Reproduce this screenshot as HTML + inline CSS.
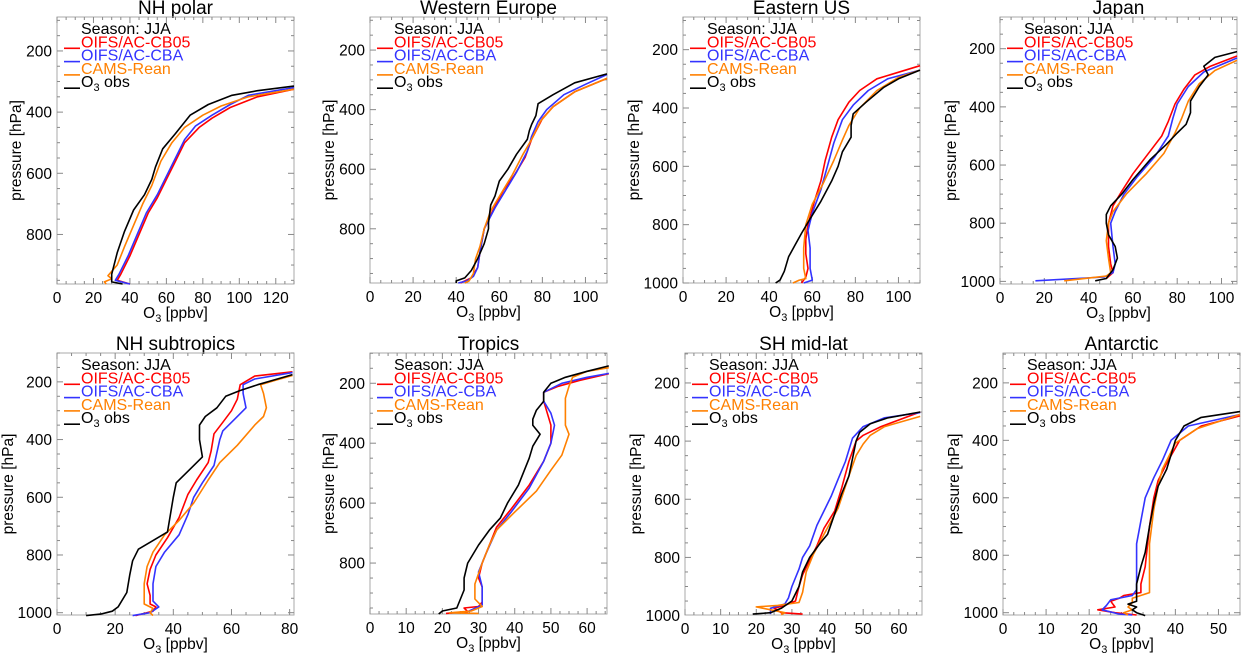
<!DOCTYPE html>
<html><head><meta charset="utf-8">
<style>
html,body{margin:0;padding:0;background:#fff;}
svg{display:block;font-family:"Liberation Sans",Arial,sans-serif;}
</style></head>
<body>
<svg id="chart" width="1241" height="653" viewBox="0 0 1241 653" xmlns="http://www.w3.org/2000/svg"></svg>
<script>
// ---------- data (O3 ppbv, pressure hPa) ----------
const titles = ["NH polar","Western Europe","Eastern US","Japan","NH subtropics","Tropics","SH mid-lat","Antarctic"];
const seriesNames = ["OIFS/AC-CB05","OIFS/AC-CBA","CAMS-Rean","O3 obs"];
const seriesColors = ["#ff0000","#3333ff","#ff8000","#000000"];

const nhpolar_cb05 = [[40,962],[33,950],[35,930],[40,870],[45,800],[50,730],[55,680],[60,620],[65,560],[70,500],[78,450],[85,420],[95,385],[110,350],[130,325]];
const nhpolar_cba  = [[40,962],[32,950],[34,930],[39,870],[44,800],[49,730],[55,670],[60,610],[65,550],[70,490],[76,445],[85,410],[95,375],[105,345],[130,320]];
const nhpolar_cams = [[27,962],[26,955],[30,945],[28,935],[33,900],[37,840],[42,770],[47,700],[52,640],[57,560],[63,500],[70,450],[80,410],[90,380],[105,350],[130,325]];
const nhpolar_obs  = [[36,962],[30,955],[30,930],[33,860],[37,790],[42,720],[48,670],[52,620],[54,580],[58,520],[65,470],[73,410],[83,375],[96,345],[110,330],[130,315]];

const weu_cb05 = [[42,982],[47,965],[50,930],[51,880],[53,800],[57,740],[62,670],[67,620],[72,560],[75,500],[80,430],[85,390],[95,340],[110,295]];
const weu_cba  = [[41,982],[45,975],[48,960],[50,930],[51,880],[53,800],[58,730],[63,670],[68,610],[73,540],[75,490],[78,440],[82,400],[90,350],[100,315],[110,282]];
const weu_cams = [[44,982],[46,975],[48,950],[49,900],[51,860],[53,800],[56,740],[61,680],[66,620],[71,550],[75,500],[79,440],[85,390],[95,340],[110,295]];
const weu_obs  = [[40,982],[40,975],[44,965],[47,940],[50,900],[53,850],[55,800],[55,780],[56,720],[58,690],[60,640],[64,600],[68,550],[73,500],[74,470],[75,450],[77,420],[78,380],[85,350],[95,310],[110,280]];

const eus_cb05 = [[55,1000],[57,980],[58,950],[57,900],[57,850],[58,800],[61,720],[64,650],[66,580],[69,500],[72,440],[77,380],[82,340],[90,300],[110,255]];
const eus_cba  = [[56,1000],[60,990],[59,950],[59,880],[58,820],[60,760],[64,680],[67,600],[70,520],[74,440],[79,390],[86,340],[95,300],[110,270]];
const eus_cams = [[51,1000],[54,990],[57,985],[56,950],[56,880],[57,800],[60,730],[65,660],[70,580],[74,510],[77,460],[82,400],[90,340],[100,295],[110,270]];
const eus_obs  = [[43,1000],[45,990],[47,960],[49,910],[52,870],[55,830],[59,780],[64,720],[69,650],[72,600],[74,550],[78,500],[78,460],[79,420],[85,380],[93,330],[100,300],[110,270]];

const jap_cb05 = [[48,990],[51,970],[50,940],[49,880],[49,800],[51,740],[55,690],[60,630],[66,570],[73,500],[76,450],[79,390],[83,340],[88,290],[95,260],[107,225]];
const jap_cba  = [[16,998],[47,985],[51,970],[52,940],[51,880],[50,800],[52,760],[56,700],[62,640],[70,570],[76,500],[78,440],[80,390],[85,330],[92,280],[107,232]];
const jap_cams = [[29,998],[48,982],[50,970],[49,920],[48,860],[49,800],[51,760],[57,700],[66,630],[74,560],[79,490],[82,440],[85,380],[90,320],[97,275],[107,240]];
const jap_obs  = [[43,998],[48,990],[51,960],[53,920],[52,880],[49,840],[48,800],[48,770],[50,740],[55,700],[60,650],[68,580],[75,530],[80,490],[84,460],[86,420],[86,380],[90,330],[94,290],[92,260],[97,230],[107,210]];

const nhs_cb05 = [[27,1010],[33,995],[34,980],[32,970],[32,940],[31,900],[32,850],[34,800],[38,740],[42,670],[45,590],[48,540],[52,480],[53,440],[54,380],[57,340],[60,300],[62,260],[63,210],[68,180],[81,165]];
const nhs_cba  = [[26,1010],[32,1000],[35,980],[33,960],[33,900],[34,840],[37,790],[42,730],[45,660],[47,600],[50,550],[54,490],[56,400],[57,370],[61,330],[65,290],[64,240],[64,210],[68,190],[81,168]];
const nhs_cams = [[33,1010],[32,1000],[33,985],[30,970],[30,900],[31,840],[33,790],[37,730],[42,680],[47,620],[52,540],[56,480],[62,420],[68,350],[71,320],[72,290],[71,240],[70,210],[75,195],[81,178]];
const nhs_obs  = [[10,1010],[15,1005],[17,1000],[19,995],[21,980],[24,930],[25,870],[26,820],[28,780],[33,750],[38,720],[39,660],[40,600],[41,550],[46,500],[50,460],[49,400],[49,350],[51,320],[55,290],[58,250],[63,230],[69,210],[81,175]];

const trop_cb05 = [[21,968],[27,962],[26,950],[30,945],[31,930],[31,880],[30,850],[31,800],[33,740],[35,680],[39,620],[44,540],[48,460],[50,400],[50,340],[49,300],[48,260],[48,230],[52,210],[58,190],[66,168]];
const trop_cba  = [[27,962],[31,940],[31,880],[30,830],[32,770],[35,690],[39,630],[44,550],[48,460],[50,400],[51,340],[50,300],[48,260],[48,230],[53,200],[60,180],[66,167]];
const trop_cams = [[30,968],[22,966],[28,960],[31,945],[29,920],[29,870],[31,800],[33,740],[35,690],[40,630],[46,560],[50,490],[53,440],[55,370],[54,340],[54,300],[54,250],[55,210],[56,180],[60,160],[66,148]];
const trop_obs  = [[19,970],[20,960],[24,950],[26,890],[26,850],[27,800],[30,740],[33,690],[36,650],[38,600],[41,540],[44,450],[45,410],[47,370],[45,340],[45,320],[46,290],[48,260],[48,230],[50,200],[54,180],[60,160],[66,142]];

const shm_cb05 = [[33,995],[27,990],[25,975],[28,965],[31,950],[32,900],[33,860],[35,810],[37,760],[39,700],[42,640],[44,560],[46,470],[48,400],[50,380],[55,350],[66,300]];
const shm_cba  = [[24,995],[24,975],[28,960],[29,940],[30,900],[32,840],[33,800],[35,760],[37,690],[39,640],[41,590],[43,530],[45,470],[47,390],[50,350],[56,320],[66,302]];
const shm_cams = [[27,997],[28,990],[20,970],[26,965],[32,955],[33,920],[34,850],[36,790],[39,720],[43,630],[46,520],[48,450],[50,410],[52,380],[56,350],[66,315]];
const shm_obs  = [[19,995],[24,990],[27,975],[30,950],[32,900],[33,850],[35,800],[38,750],[40,720],[42,650],[44,580],[46,520],[47,460],[48,400],[49,370],[52,340],[57,320],[66,300]];

const ant_cb05 = [[31,1008],[26,1000],[22,990],[26,980],[25,960],[27,950],[28,940],[32,930],[32,900],[33,840],[34,700],[35,600],[36,540],[38,480],[41,400],[46,350],[55,315]];
const ant_cba  = [[30,1008],[27,1005],[23,990],[24,975],[25,955],[30,940],[31,920],[31,840],[31,760],[32,680],[33,600],[35,530],[37,470],[39,400],[43,350],[55,310]];
const ant_cams = [[29,1008],[28,1000],[30,990],[29,980],[30,965],[30,950],[34,930],[34,900],[34,840],[34,760],[35,640],[36,560],[37,500],[40,410],[45,360],[55,310]];
const ant_obs  = [[33,1010],[31,1000],[30,990],[31,980],[29,970],[31,960],[31,940],[31,900],[32,840],[33,790],[34,700],[35,620],[36,560],[38,500],[39,450],[40,400],[42,350],[46,320],[55,300]];

// axis ranges
const xMax = [130,110,110,107,81.5,65.5,66.5,55];
const xTickStep = [20,20,20,20,20,10,10,10];
const pTop = [89,89,88,91,100,99,97,96];
const pBot = [962,982,1000,1009,1008,970,998,1008];
const pTicks = [200,400,600,800,1000];

const allSeries = [
 [nhpolar_cb05,nhpolar_cba,nhpolar_cams,nhpolar_obs],
 [weu_cb05,weu_cba,weu_cams,weu_obs],
 [eus_cb05,eus_cba,eus_cams,eus_obs],
 [jap_cb05,jap_cba,jap_cams,jap_obs],
 [nhs_cb05,nhs_cba,nhs_cams,nhs_obs],
 [trop_cb05,trop_cba,trop_cams,trop_obs],
 [shm_cb05,shm_cba,shm_cams,shm_obs],
 [ant_cb05,ant_cba,ant_cams,ant_obs]
];

// panel geometry
const boxes = [
 {l:57,r:294,t:17,b:284},{l:370,r:607,t:17,b:283},{l:683,r:920,t:17,b:283},{l:1000,r:1237,t:17,b:284},
 {l:57,r:294,t:353,b:615},{l:370,r:607,t:353,b:614},{l:685,r:922,t:353,b:615},{l:1003,r:1240,t:353,b:615}
];

const NS="http://www.w3.org/2000/svg";
const svg=document.getElementById('chart');
function mk(tag,attrs,parent){const e=document.createElementNS(NS,tag);for(const k in attrs)e.setAttribute(k,attrs[k]);(parent||svg).appendChild(e);return e;}

for(let i=0;i<8;i++){
  const B=boxes[i];
  const sx=v=>B.l+(v/xMax[i])*(B.r-B.l);
  const sy=p=>B.t+(p-pTop[i])/(pBot[i]-pTop[i])*(B.b-B.t);
  const g=mk('g',{});
  
  
  const ttl=mk('text',{x:(B.l+B.r)/2,y:B.t-3,'text-anchor':'middle','font-size':'19'},g);
  ttl.textContent=titles[i];
  
  
  const fr=mk('rect',{x:B.l,y:B.t,width:B.r-B.l,height:B.b-B.t,fill:'none',stroke:'#aaa','stroke-width':1},g);
  
  
  const xs=xTickStep[i];
  for(let v=0;v<=xMax[i]+0.01;v+=xs/4){
    const major=Math.abs(v/xs-Math.round(v/xs))<1e-6;
    const len=major?6:3;
    const X=sx(v);
    mk('line',{x1:X,x2:X,y1:B.b,y2:B.b-len,stroke:'#888','stroke-width':1},g);
    mk('line',{x1:X,x2:X,y1:B.t,y2:B.t+len,stroke:'#888','stroke-width':1},g);
    if(major){
      const t=mk('text',{x:X,y:B.b+19,'text-anchor':'middle','font-size':'15.5'},g);
      t.textContent=String(Math.round(v));
      
      
    }
  }
  for(let p=100;p<=pBot[i];p+=50){
    if(p<pTop[i])continue;
    const major=p%200===0;
    const len=major?6:3;
    const Y=sy(p);
    mk('line',{x1:B.l,x2:B.l+len,y1:Y,y2:Y,stroke:'#888','stroke-width':1},g);
    mk('line',{x1:B.r,x2:B.r-len,y1:Y,y2:Y,stroke:'#888','stroke-width':1},g);
  }
  let has1000=false;
  pTicks.forEach(p=>{
    if(p>pBot[i]+2)return;
    if(p===1000)has1000=true;
    const t=mk('text',{x:B.l-5,y:sy(p)+5.5,'text-anchor':'end','font-size':'15.5'},g);
    t.textContent=String(p);
    
    
  });
  const yoff=has1000?50:42;
  const yt=mk('text',{x:0,y:0,'text-anchor':'middle','font-size':'15.5',transform:`translate(${B.l-yoff+6},${(B.t+B.b)/2}) rotate(-90)`},g);
  yt.textContent='pressure [hPa]';
  
  
  const xt=mk('text',{x:(B.l+B.r)/2,y:B.b+34,'text-anchor':'middle','font-size':'15.5'},g);
  xt.innerHTML='O<tspan font-size="11" dy="4">3</tspan><tspan dy="-4"> [ppbv]</tspan>';
  
  
  allSeries[i].forEach((s,k)=>{
    const d=s.map((pt,j)=>(j?'L':'M')+sx(pt[0]).toFixed(1)+','+sy(pt[1]).toFixed(1)).join(' ');
    const path=mk('path',{d:d,fill:'none',stroke:seriesColors[k],'stroke-width':1.6,'stroke-linejoin':'round'},g);
    
    
  });
  const lg=mk('g',{},g);
  
  
  const lx=B.l+24, ly=B.t+17;
  const st=mk('text',{x:lx,y:ly,'font-size':'16',fill:'#000'},lg);
  st.textContent='Season: JJA';
  
  
  seriesNames.forEach((n,k)=>{
    const yy=ly+13.3*(k+1);
    mk('line',{x1:B.l+7,x2:B.l+23,y1:yy+1,y2:yy+1,stroke:seriesColors[k],'stroke-width':1.6},lg);
    const t=mk('text',{x:lx,y:yy,'font-size':'16',fill:seriesColors[k]},lg);
    if(k===3){t.innerHTML='O<tspan font-size="11" dy="4">3</tspan><tspan dy="-4"> obs</tspan>';}
    else t.textContent=n;
    
    
  });
}
</script>
</body></html>
